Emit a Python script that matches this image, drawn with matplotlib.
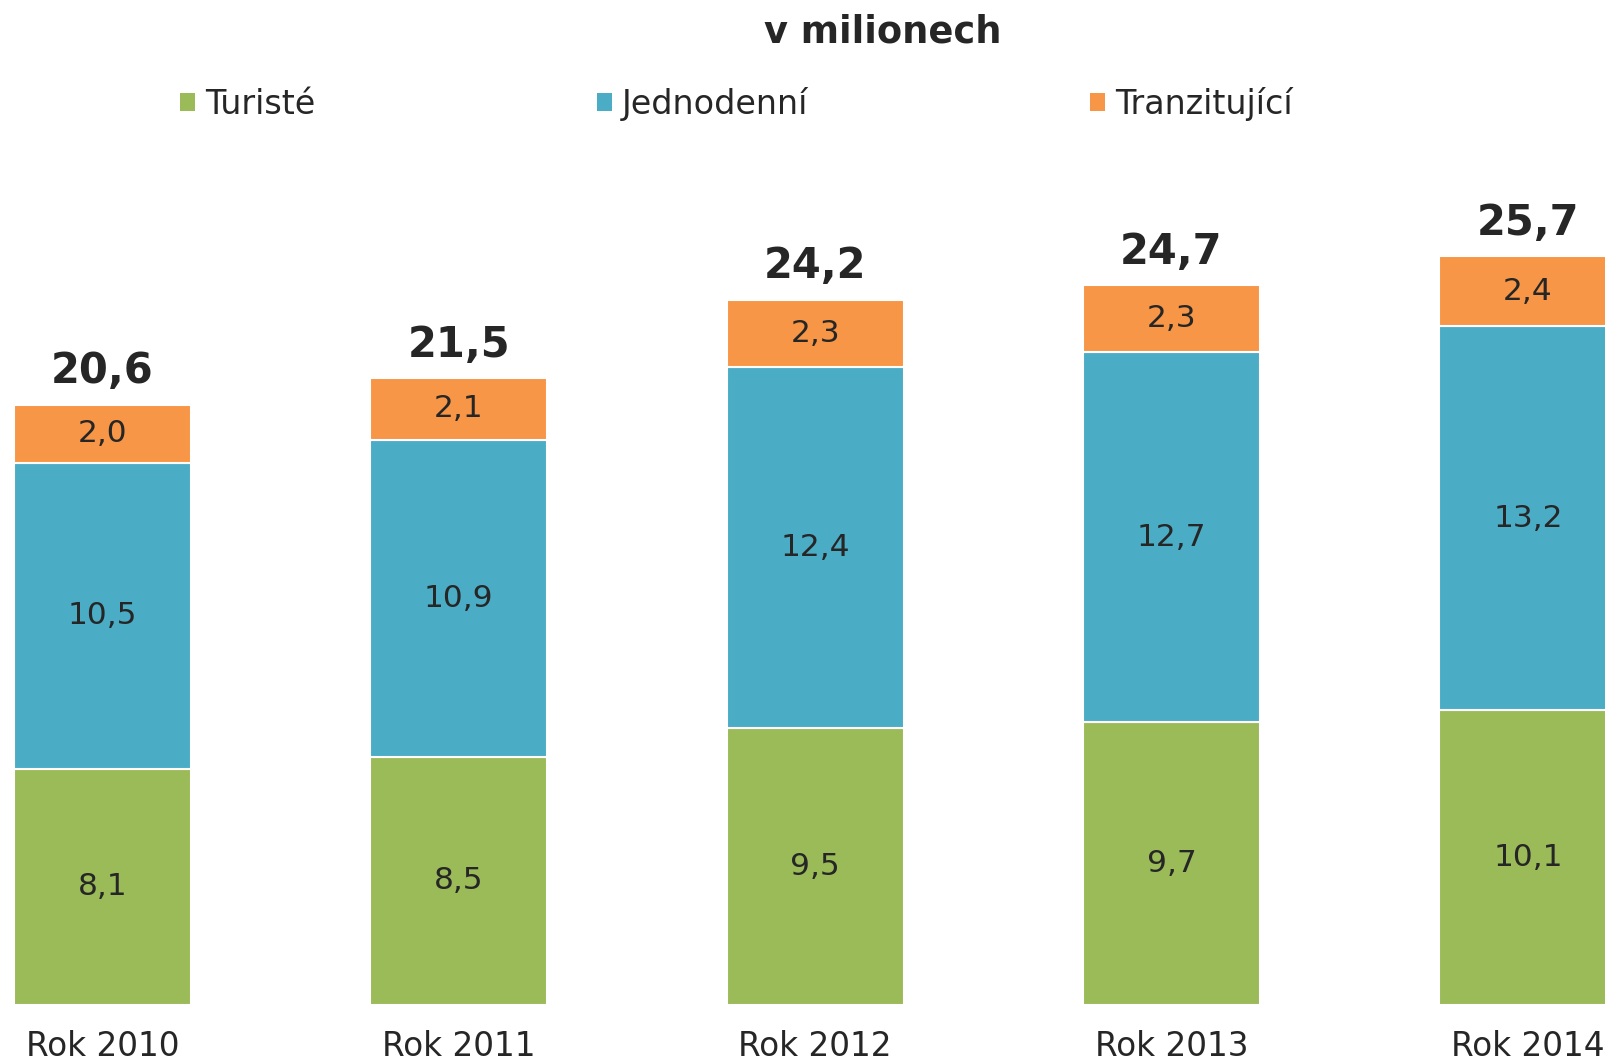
import matplotlib
matplotlib.use("Agg")
import matplotlib.pyplot as plt
from matplotlib.patches import Patch
import numpy as np

categories = ["Rok 2010", "Rok 2011", "Rok 2012", "Rok 2013", "Rok 2014"]
turiste = [8.1, 8.5, 9.5, 9.7, 10.1]
jednodenni = [10.5, 10.9, 12.4, 12.7, 13.2]
tranzitujici = [2.0, 2.1, 2.3, 2.3, 2.4]
totals = [20.6, 21.5, 24.2, 24.7, 25.7]
series_names = ["Turisté", "Jednodenní", "Tranzitující"]
colors = ["#9BBB59", "#4BACC6", "#F79646"]
txt = "#262626"

def fmt(v):
    return f"{v:.1f}".replace(".", ",")

W, H = 1606, 1063
fig = plt.figure(figsize=(W / 100, H / 100), dpi=100)
bottom_px = 58.3
ax = fig.add_axes([0, bottom_px / H, 1, 1 - bottom_px / H])

x = np.arange(len(categories))
series = [turiste, jednodenni, tranzitujici]
base = np.zeros(len(categories))
for vals, col in zip(series, colors):
    ax.bar(x, vals, width=0.497, bottom=base, color=col,
           edgecolor="white", linewidth=1.5)
    for xi, b, v in zip(x, base, vals):
        ax.text(xi, b + v / 2, fmt(v), ha="center", va="center",
                fontsize=22.5, color=txt)
    base = base + np.array(vals)

for xi, t, top in zip(x, totals, base):
    ax.annotate(fmt(t), (xi, top), xytext=(0, 9), textcoords="offset points",
                ha="center", va="bottom", fontsize=30, fontweight="bold",
                color=txt)

ax.set_xlim(-0.287, 4.219)
ax.set_ylim(0, 34.49)
ax.set_xticks(x)
ax.set_xticklabels(categories, fontsize=23.5, color=txt)
ax.tick_params(axis="x", length=0, pad=18)
ax.set_yticks([])
for s in ax.spines.values():
    s.set_visible(False)

fig.text(883 / W, 1 - 32 / H, "v milionech", ha="center", va="center",
         fontsize=26.5, fontweight="bold", color=txt)

handles = [Patch(facecolor=c, edgecolor="none", label=n)
           for c, n in zip(colors, series_names)]
fig.legend(handles=handles, loc="center", bbox_to_anchor=(0.4585, 1 - 104 / H),
           ncol=3, frameon=False, fontsize=24, labelcolor=txt,
           handlelength=0.45, handleheight=0.45, handletextpad=0.3,
           columnspacing=8.45)

fig.savefig("out.png", dpi=100)
